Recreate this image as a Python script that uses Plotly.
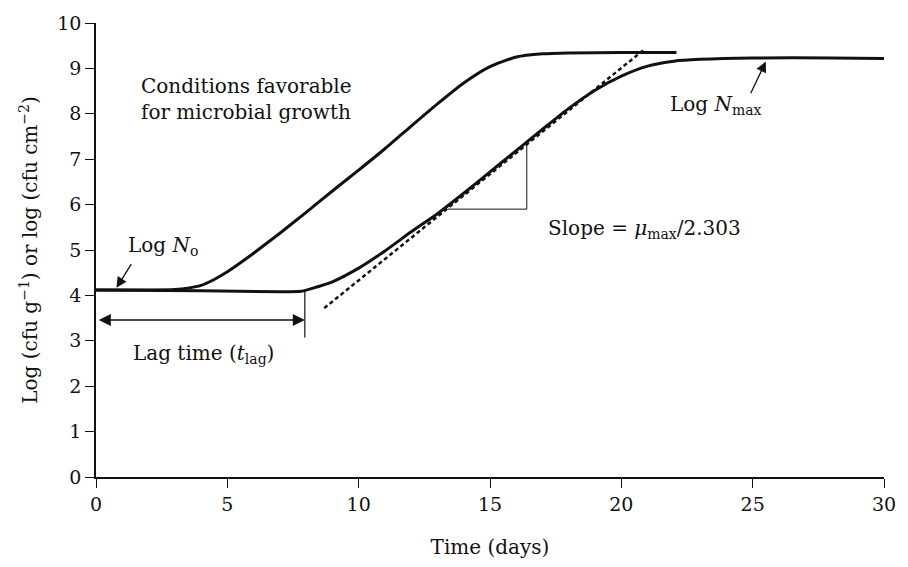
import plotly.graph_objects as go

# Favorable-conditions growth curve
fast_days = [0, 2, 3, 3.5, 4, 4.5, 5, 5.5, 6, 7, 8, 9, 10, 11, 12, 13, 14, 15, 16, 17, 18, 20, 22.1]
fast_log = [4.12, 4.12, 4.13, 4.16, 4.22, 4.35, 4.52, 4.72, 4.93, 5.37, 5.83, 6.30, 6.76, 7.23, 7.73, 8.22, 8.68, 9.04, 9.25, 9.32, 9.34, 9.35, 9.35]

# Reference growth curve
slow_days = [0, 4, 7, 7.8, 8.2, 9, 10, 11, 12, 13, 14, 15, 16, 17, 18, 19, 20, 21, 22, 23, 25, 28, 30]
slow_log = [4.12, 4.10, 4.08, 4.09, 4.15, 4.30, 4.60, 4.98, 5.40, 5.80, 6.25, 6.72, 7.19, 7.66, 8.12, 8.52, 8.83, 9.05, 9.16, 9.20, 9.23, 9.23, 9.22]

# Tangent (max growth rate) line
tangent_days = [8.69, 20.9]
tangent_log = [3.72, 9.43]

# Slope triangle
tri_days = [13.4, 16.4, 16.4]
tri_log = [5.90, 5.90, 7.32]

# Lag time
lag_end = 7.95
lag_arrow_y = 3.46
lag_line_log = [4.10, 3.07]

x_ticks = [0, 5, 10, 15, 20, 25, 30]
y_ticks = list(range(0, 11))

FONT = "DejaVu Serif"
INK = "#111111"
TXT = 20
TICK = 19

fig = go.Figure()
fig.add_trace(go.Scatter(x=fast_days, y=fast_log, mode="lines", line=dict(color=INK, width=3, shape="spline", smoothing=0.6), showlegend=False, hoverinfo="skip"))
fig.add_trace(go.Scatter(x=slow_days, y=slow_log, mode="lines", line=dict(color=INK, width=3, shape="spline", smoothing=0.6), showlegend=False, hoverinfo="skip"))
fig.add_trace(go.Scatter(x=tangent_days, y=tangent_log, mode="lines", line=dict(color=INK, width=2.5, dash="4px,3px"), showlegend=False, hoverinfo="skip"))
fig.add_trace(go.Scatter(x=tri_days, y=tri_log, mode="lines", line=dict(color=INK, width=1), showlegend=False, hoverinfo="skip"))
fig.add_trace(go.Scatter(x=[lag_end, lag_end], y=lag_line_log, mode="lines", line=dict(color=INK, width=1.2), showlegend=False, hoverinfo="skip"))

annotations = []
# lag double arrow
annotations.append(dict(x=lag_end, y=lag_arrow_y, ax=0.05, ay=lag_arrow_y, xref="x", yref="y", axref="x", ayref="y",
                        text="", showarrow=True, arrowhead=2, arrowsize=1.6, arrowwidth=1.5, arrowside="end+start", arrowcolor=INK,
                        startarrowhead=2, startarrowsize=1.6))
annotations.append(dict(x=4.1, y=2.72, xref="x", yref="y", text="Lag time (<i>t</i><sub>lag</sub>)", showarrow=False,
                        font=dict(family=FONT, size=TXT, color=INK)))
# Log No arrow
annotations.append(dict(x=0.78, y=4.17, ax=1.38, ay=4.72, xref="x", yref="y", axref="x", ayref="y",
                        text="", showarrow=True, arrowhead=2, arrowsize=1.6, arrowwidth=1.3, arrowcolor=INK))
annotations.append(dict(x=2.55, y=5.08, xref="x", yref="y", text="Log <i>N</i><sub>o</sub>", showarrow=False,
                        font=dict(family=FONT, size=TXT, color=INK)))
# Log Nmax arrow
annotations.append(dict(x=25.5, y=9.15, ax=24.9, ay=8.42, xref="x", yref="y", axref="x", ayref="y",
                        text="", showarrow=True, arrowhead=2, arrowsize=1.6, arrowwidth=1.3, arrowcolor=INK))
annotations.append(dict(x=23.6, y=8.2, xref="x", yref="y", text="Log <i>N</i><sub>max</sub>", showarrow=False,
                        font=dict(family=FONT, size=TXT, color=INK)))
# slope text
annotations.append(dict(x=20.9, y=5.47, xref="x", yref="y", text="Slope = <i>μ</i><sub>max</sub>/2.303", showarrow=False,
                        font=dict(family=FONT, size=TXT, color=INK)))
# conditions text
annotations.append(dict(x=1.62, y=8.32, xref="x", yref="y", xanchor="left", align="left",
                        text="Conditions favorable<br>for microbial growth", showarrow=False,
                        font=dict(family=FONT, size=TXT, color=INK)))

fig.update_layout(
    width=908, height=567,
    margin=dict(l=96, r=15, t=19, b=89),
    plot_bgcolor="white", paper_bgcolor="white",
    font=dict(family=FONT, size=TXT, color=INK),
    annotations=annotations,
    xaxis=dict(range=[0, 30], tickvals=x_ticks, ticks="outside", ticklen=9, tickwidth=1.3, tickcolor=INK,
               showline=True, linecolor=INK, linewidth=1.5, showgrid=False, zeroline=False,
               title=dict(text="Time (days)", font=dict(family=FONT, size=TXT), standoff=26),
               tickfont=dict(family=FONT, size=TICK)),
    yaxis=dict(range=[0, 10], tickvals=y_ticks, ticks="outside", ticklen=9, tickwidth=1.3, tickcolor=INK,
               showline=True, linecolor=INK, linewidth=1.5, showgrid=False, zeroline=False,
               title=dict(text="Log (cfu g<sup>−1</sup>) or log (cfu cm<sup>−2</sup>)", font=dict(family=FONT, size=TXT), standoff=14),
               tickfont=dict(family=FONT, size=TICK)),
)

fig.write_html("out.html")
